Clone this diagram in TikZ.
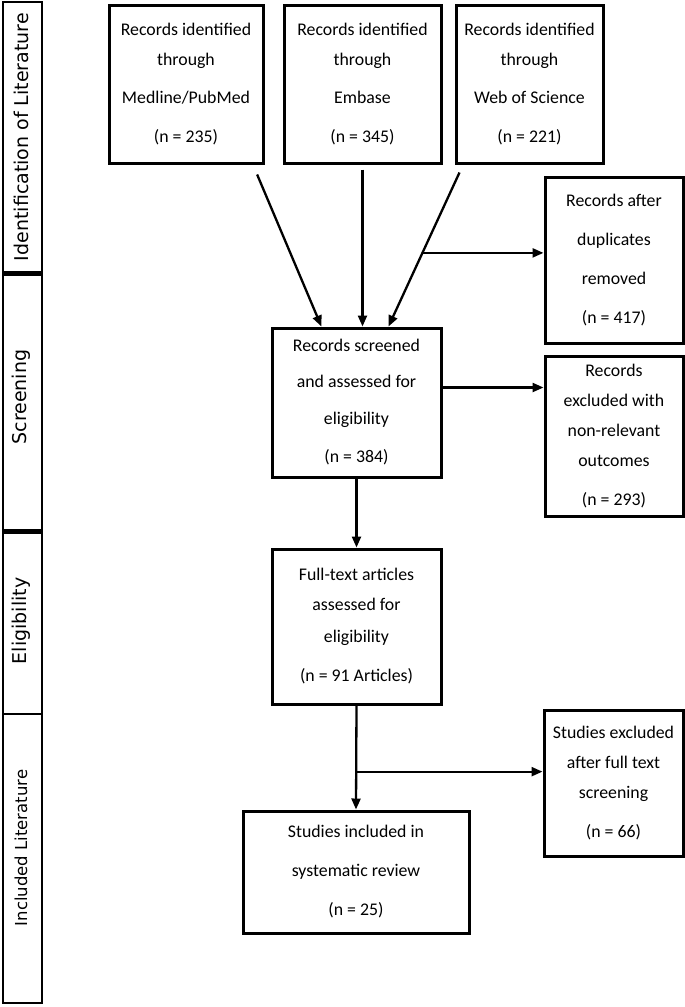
\documentclass[tikz,border=0pt]{standalone}
\usepackage{fontspec}
\setmainfont{Carlito}
\newfontfamily\sidefont{DejaVu Sans}
\usetikzlibrary{arrows.meta,calc}
\begin{document}
\begin{tikzpicture}[x=1pt,y=-1pt,
  box/.style={draw,line width=3pt,align=center,inner sep=0pt,font=\fontsize{17.8}{30}\selectfont},
  arr/.style={line width=2.3pt,-{Triangle[length=11pt,width=9pt]}},
  sec/.style={draw,line width=2.5pt},
  side/.style={rotate=90,inner sep=0pt}]
\useasboundingbox (0,0) rectangle (685,1007);
% side bar
\draw[sec] (3,2) rectangle (42,272);
\draw[sec] (3,274.5) rectangle (42,530);
\draw[sec] (3,532.5) rectangle (42,714);
\draw[sec] (3,714) rectangle (42,1003);
\node[side,font=\sidefont\fontsize{19}{22}\selectfont] (l1) at (21,137) {Identification of Literature};
\node[side,font=\sidefont\fontsize{19}{22}\selectfont] (l2) at (21,397) {Screening};
\node[side,font=\sidefont\fontsize{19}{22}\selectfont] (l3) at (21,621) {Eligibility};
\node[side,font=\sidefont\fontsize{16.5}{20}\selectfont] (l4) at (21,848) {Included Literature};
% boxes
\node[box,minimum width=154pt,minimum height=158pt] (b1) at (186,84) {Records identified\\through\\[8pt]Medline/PubMed\\[9pt](n = 235)};
\node[box,minimum width=157pt,minimum height=158pt] (b2) at (362.5,84) {Records identified\\through\\[8pt]Embase\\[9pt](n = 345)};
\node[box,minimum width=147pt,minimum height=158pt] (b3) at (529.5,84) {Records identified\\through\\[8pt]Web of Science\\[9pt](n = 221)};
\node[box,minimum width=138pt,minimum height=166pt] (dup) at (614,260) {Records after\\[9pt]duplicates\\[9pt]removed\\[9pt](n = 417)};
\node[box,minimum width=169pt,minimum height=149pt] (scr) at (356.5,402.5) {Records screened\\[6pt]and assessed for\\[7pt]eligibility\\[8pt](n = 384)};
\node[box,minimum width=138pt,minimum height=160pt] (exc) at (614,436) {Records\\excluded with\\non-relevant\\outcomes\\[9pt](n = 293)};
\node[box,minimum width=169pt,minimum height=155pt] (ft) at (356.5,626.5) {Full-text articles\\assessed for\\[2pt]eligibility\\[9pt](n = 91 Articles)};
\node[box,minimum width=139pt,minimum height=146pt] (sx) at (613.5,783) {Studies excluded\\after full text\\screening\\[9pt](n = 66)};
\node[box,minimum width=226pt,minimum height=122pt] (inc) at (356,872) {Studies included in\\[9pt]systematic review\\[9pt](n = 25)};
% connectors
\coordinate (s1) at ($(b1.south west)!0.953!(b1.south east)+(0,10)$);
\coordinate (s2) at ($(b2.south)+(0,5)$);
\coordinate (s3) at ($(b3.south west)+(5,8)$);
\coordinate (e1) at ($(scr.north west)!0.296!(scr.north east)$);
\coordinate (e3) at ($(scr.north west)!0.686!(scr.north east)$);
\draw[arr] (s1) -- (e1);
\draw[arr] (s2) -- (s2 |- scr.north);
\draw[arr] (s3) -- (e3);
\coordinate (br1) at ($(s3)!0.522!(e3)$);
\draw[arr] (br1) -- (br1 -| dup.west);
\coordinate (m1) at ($(scr.north east)+(0,61)$);
\draw[arr] (m1) -- (m1 -| exc.west);
\draw[arr] (scr.south) -- (ft.north);
\draw[arr] (ft.south) -- (inc.north);
\coordinate (br2) at ($(ft.south)!0.636!(inc.north)$);
\draw[arr] (br2) -- (br2 -| sx.west);
\end{tikzpicture}
\end{document}
